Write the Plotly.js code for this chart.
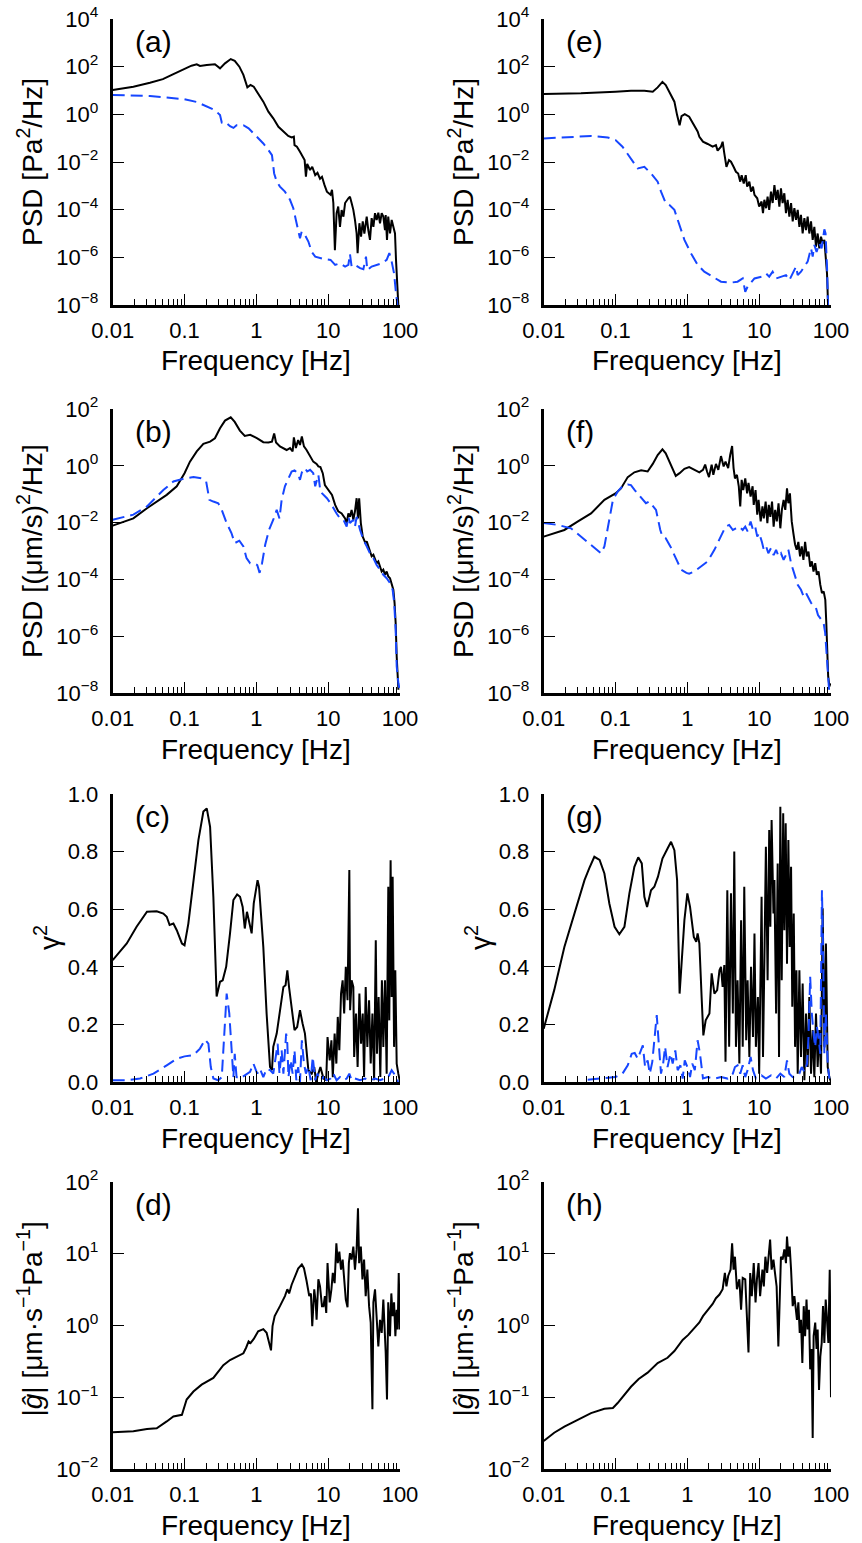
<!DOCTYPE html>
<html><head><meta charset="utf-8">
<script src="https://cdn.plot.ly/plotly-3.0.1.min.js"></script>
<style>html,body{margin:0;padding:0;background:#fff}#chart{width:862px;height:1543px}</style>
</head><body><div id="chart"></div>
<script>
// ---------- DATA: [frequency Hz, value] ----------
const aBlack = [[0.01,10.5],[0.0194,14.4],[0.033,21],[0.05,30],[0.07,49],[0.1,79],[0.125,110],[0.148,126],[0.164,107],[0.204,117],[0.265,126],[0.312,85],[0.366,138],[0.44,209],[0.5,174],[0.58,100],[0.66,45],[0.75,13.5],[0.83,17],[0.92,14.5],[1.06,7.6],[1.25,3.4],[1.47,1.3],[1.72,0.68],[2.03,0.30],[2.38,0.20],[2.78,0.123],[3.1,0.107],[3.33,0.115],[3.4,0.051],[3.67,0.044],[4.05,0.027],[4.4,0.0166],[4.7,0.012],[4.9,0.0024],[5.1,0.0083],[5.6,0.0046],[6.0,0.0063],[6.6,0.0028],[7.1,0.0035],[7.7,0.002],[8.2,0.0024],[8.9,0.00107],[9.6,5.7e-4],[10.8,4.2e-4],[11.3,6.8e-4],[11.8,1.9e-4],[12.4,2.0e-6],[13.1,7.1e-5],[13.8,1.35e-4],[14.6,1.9e-5],[15.4,9.7e-5],[16.3,5.1e-5],[17.2,1.9e-4],[19.1,3.0e-4],[20.1,3.5e-4],[21.2,1.9e-4],[22.4,9.8e-5],[23.6,3.7e-5],[24.9,1.0e-5],[25.7,1.5e-6],[27.2,2.7e-5],[28.7,7.4e-6],[30.3,3.2e-5],[31.9,1.0e-5],[34.4,5.1e-5],[36.2,1.4e-5],[38.2,5.4e-6],[40.3,4.4e-5],[42.6,1.9e-5],[44.9,7.1e-5],[47.3,3.7e-5],[49.9,7.5e-5],[52.7,2.7e-5],[55.6,7.1e-5],[58.6,5.1e-5],[61.8,1.4e-5],[63.2,6.0e-5],[65.9,5.4e-6],[68.6,5.1e-5],[72.6,1.0e-5],[76.6,3.7e-5],[80.8,1.9e-5],[85.2,1.0e-5],[88,7.8e-7],[92,8.1e-8],[94.8,1e-8]];
const aBlue = [[0.01,6.5],[0.0194,6.3],[0.033,5.9],[0.0565,5.1],[0.1,4.3],[0.148,3.3],[0.204,2.2],[0.265,1.5],[0.312,0.93],[0.33,0.45],[0.366,0.49],[0.43,0.32],[0.48,0.27],[0.53,0.35],[0.66,0.35],[0.78,0.26],[0.91,0.16],[1.06,0.098],[1.25,0.06],[1.47,0.032],[1.65,0.0195],[1.77,0.0033],[1.92,0.0015],[2.13,9.3e-4],[2.5,5.7e-4],[2.94,2.6e-4],[3.27,1.15e-4],[3.55,3.7e-5],[3.86,1.4e-5],[4.05,6.3e-6],[4.28,1.2e-5],[4.75,8.7e-6],[5.3,4.6e-6],[5.9,1.7e-6],[6.6,1.07e-6],[7.7,9.1e-7],[9.0,8.3e-7],[10.8,7.8e-7],[12.5,4.8e-7],[14.6,5.6e-7],[17.2,4.1e-7],[19.1,4.8e-7],[20.1,1.4e-6],[21.2,4.1e-7],[23.6,4.8e-7],[27.8,3.5e-7],[30.9,3.2e-7],[33.6,1.07e-6],[35.1,2.9e-7],[40.3,4.1e-7],[47.3,4.8e-7],[55.6,5.6e-7],[65.2,7.8e-7],[71,1.5e-6],[76.6,6.6e-7],[82.7,2.1e-7],[88,3.1e-8],[92,1e-8]];

const eBlack = [[0.01,7.1],[0.033,7.6],[0.1,8.9],[0.164,9.8],[0.252,9.8],[0.33,8.9],[0.386,13.5],[0.45,23],[0.5,17],[0.58,7.6],[0.66,3.4],[0.72,0.93],[0.78,0.35],[0.83,0.85],[0.92,1.02],[1.06,0.8],[1.25,0.35],[1.39,0.19],[1.47,0.115],[1.65,0.071],[1.92,0.057],[2.25,0.044],[2.5,0.051],[2.64,0.030],[2.94,0.044],[3.1,0.071],[3.27,0.023],[3.5,0.0063],[3.8,0.012],[4.05,0.0103],[4.4,0.0063],[4.75,0.0039],[5.1,0.0033],[5.45,0.0015],[5.7,0.0028],[6.1,0.00126],[6.5,0.0028],[6.8,9.3e-4],[7.3,1.5e-3],[7.7,5.7e-4],[8.2,9.3e-4],[8.6,4.2e-4],[9.4,3.0e-4],[10,1.35e-4],[10.8,2.2e-4],[11.3,7.1e-5],[11.8,2.6e-4],[12.5,1.15e-4],[13.1,3.5e-4],[13.8,9.8e-5],[14.6,5.7e-4],[15.4,1.9e-4],[16.3,1.07e-3],[17.2,2.6e-4],[18.1,6.8e-4],[19.1,1.35e-4],[20.1,7.9e-4],[21.2,1.9e-4],[22.4,4.9e-4],[23.6,7.1e-5],[24.9,2.6e-4],[26.3,5.1e-5],[27.8,1.9e-4],[29.3,3.2e-5],[30.9,1.15e-4],[32.6,3.7e-5],[34.4,9.8e-5],[36.3,1.9e-5],[38.2,6.0e-5],[40.3,1.0e-5],[42.6,4.4e-5],[44.9,1.4e-5],[47.3,5.1e-5],[49.9,1.0e-5],[52.7,3.2e-5],[55.6,5.4e-6],[58.6,1.9e-5],[61.8,2.8e-6],[65.2,1.0e-5],[68.7,2.4e-6],[72.6,7.4e-6],[76.6,3.9e-6],[80.8,5.4e-6],[84,1.5e-6],[88,2.1e-7],[91,1e-8]];
const eBlue = [[0.01,0.098],[0.0194,0.107],[0.0456,0.123],[0.078,0.107],[0.1,0.083],[0.125,0.044],[0.164,0.014],[0.204,0.0054],[0.252,0.0063],[0.312,0.0033],[0.386,0.0015],[0.43,5.7e-4],[0.5,1.9e-4],[0.56,1.6e-4],[0.66,9.8e-5],[0.78,2.3e-5],[0.91,5.4e-6],[1.12,1.5e-6],[1.39,4.8e-7],[1.72,2.5e-7],[2.25,1.55e-7],[2.94,9.5e-8],[4.05,8.7e-8],[5.0,9.5e-8],[5.9,1.3e-7],[6.4,3.6e-8],[6.9,5.9e-8],[7.6,8.1e-8],[8.6,1.3e-7],[10.8,1.55e-7],[12.5,2.1e-7],[13.8,1.55e-7],[15.4,2.5e-7],[17.2,1.3e-7],[20.1,1.55e-7],[23.6,1.8e-7],[26.3,1.1e-7],[29.3,2.1e-7],[32.6,4.1e-7],[34.4,1.8e-7],[38.2,2.5e-7],[42.6,4.1e-7],[47.3,6.6e-7],[52.7,2.4e-6],[55.6,1.07e-6],[58.6,3.3e-6],[63,1.7e-6],[68.7,3.9e-6],[74,2.4e-6],[80.8,1.5e-5],[84,1.0e-5],[88,4.1e-7],[91,1e-8]];

const bBlack = [[0.01,0.0078],[0.0126,0.0096],[0.0194,0.0141],[0.030,0.032],[0.041,0.055],[0.0565,0.095],[0.078,0.19],[0.1,0.55],[0.119,1.4],[0.148,3.2],[0.183,5.9],[0.227,7.1],[0.265,9.3],[0.312,21],[0.366,39],[0.44,51],[0.5,35],[0.59,17.4],[0.69,11.2],[0.82,12.3],[1.03,9.3],[1.25,6.8],[1.47,6.6],[1.65,7.1],[1.77,13.8],[1.88,6.6],[2.13,4.8],[2.64,3.6],[2.94,4.2],[3.2,3.2],[3.33,10],[3.55,4.2],[3.82,8.1],[4.05,5.4],[4.3,10.7],[4.6,4.8],[5.0,3.6],[5.6,2.1],[6.2,1.4],[6.9,1.17],[7.3,0.95],[7.8,0.9],[8.4,0.55],[9.0,0.21],[10,0.14],[11.3,0.095],[12.5,0.042],[13.8,0.025],[15.4,0.021],[17.2,0.014],[18.1,0.0096],[19.1,0.021],[20.1,0.016],[21.2,0.028],[22.4,0.0126],[23.6,0.025],[24.9,0.072],[26,0.014],[27,0.072],[28.5,0.0096],[30.3,0.0032],[33,0.0019],[34.4,0.0022],[36.3,0.00145],[38.2,0.0011],[40.3,6.5e-4],[42.6,7.4e-4],[44.9,4.9e-4],[47.3,3.7e-4],[49.9,4.3e-4],[52.7,2.8e-4],[55.6,1.9e-4],[58.6,2.2e-4],[61.8,1.45e-4],[65.2,1.9e-4],[68.7,1.26e-4],[72.6,1.1e-4],[76.6,7.4e-5],[80.8,4.3e-5],[84,1.5e-5],[87,2.9e-6],[90,1.9e-7],[93,2.2e-8],[95,1.3e-8]];
const bBlue = [[0.01,0.0126],[0.0194,0.019],[0.030,0.037],[0.0507,0.14],[0.07,0.28],[0.1,0.36],[0.133,0.40],[0.173,0.36],[0.2,0.28],[0.222,0.063],[0.252,0.055],[0.295,0.048],[0.33,0.028],[0.386,0.0096],[0.45,0.0043],[0.5,0.0019],[0.58,0.0023],[0.66,0.00145],[0.73,5.6e-4],[0.82,3.7e-4],[0.97,3.5e-4],[1.03,3.2e-4],[1.11,1.7e-4],[1.2,3.7e-4],[1.33,0.0017],[1.5,0.0055],[1.72,0.0126],[1.92,0.028],[2.1,0.014],[2.25,0.063],[2.5,0.19],[2.8,0.36],[3.1,0.63],[3.4,0.69],[3.8,0.55],[4.05,0.32],[4.3,0.59],[4.75,0.83],[5.1,0.63],[5.6,0.72],[6.2,0.55],[6.6,0.19],[6.9,0.32],[7.3,0.48],[7.8,0.123],[8.6,0.095],[9.6,0.072],[10.8,0.048],[11.8,0.032],[13.1,0.021],[14.6,0.014],[16.3,0.0126],[18.1,0.0072],[19.1,0.016],[20.1,0.0096],[22.4,0.0126],[23.6,0.0072],[24.9,0.016],[27.8,0.0055],[30.9,0.0025],[34.4,0.00145],[38.2,8.3e-4],[42.6,5.6e-4],[47.3,3.2e-4],[52.7,2.2e-4],[58.6,1.45e-4],[65.2,1.1e-4],[72.6,7.4e-5],[79,4.3e-5],[83,1.5e-5],[87,1.7e-6],[90,8.7e-8],[95,2.2e-8],[98,1.5e-8]];

const fBlack = [[0.01,0.0032],[0.0194,0.0055],[0.030,0.011],[0.0456,0.021],[0.07,0.063],[0.1,0.107],[0.119,0.16],[0.148,0.40],[0.183,0.59],[0.227,0.69],[0.28,0.63],[0.33,1.17],[0.386,2.4],[0.45,3.8],[0.5,2.75],[0.59,1.1],[0.69,0.44],[0.78,0.55],[0.91,0.78],[1.06,0.9],[1.25,0.72],[1.47,0.59],[1.65,0.72],[1.77,1.1],[1.88,0.63],[2.0,0.40],[2.18,1.1],[2.3,0.48],[2.5,1.17],[2.7,0.72],[2.94,2.2],[3.2,0.95],[3.4,1.4],[3.7,0.83],[3.95,2.4],[4.2,5.0],[4.4,0.83],[4.6,0.36],[4.9,0.48],[5.2,0.19],[5.45,0.037],[5.7,0.32],[6.0,0.14],[6.4,0.36],[6.8,0.107],[7.1,0.25],[7.6,0.083],[8.1,0.19],[8.4,0.042],[8.9,0.14],[9.4,0.019],[9.8,0.063],[10.5,0.011],[11.1,0.037],[11.6,0.014],[12.3,0.055],[13,0.0096],[13.6,0.042],[14.3,0.016],[15.1,0.055],[15.9,0.0072],[16.7,0.028],[17.6,0.011],[18.6,0.048],[19.7,0.0063],[20.7,0.028],[21.9,0.063],[23.1,0.028],[24.4,0.16],[25.5,0.048],[26.8,0.107],[28.4,0.011],[29.9,0.0043],[31.6,0.0017],[33.3,0.0011],[35.1,0.0021],[37.1,6.5e-4],[39.1,0.00145],[41.3,4.9e-4],[43.6,0.0021],[46,6.5e-4],[48.6,9.6e-4],[51.3,2.8e-4],[54.1,4.3e-4],[57.1,1.9e-4],[60.3,3.7e-4],[63.6,1.45e-4],[67.1,1.9e-4],[70.9,6.5e-5],[74.8,3.3e-5],[79,3.8e-5],[83.3,1.9e-5],[86,2.9e-6],[88.7,3.4e-7],[91.3,3.9e-8],[95,1.7e-8],[98,2.2e-8]];
const fBlue = [[0.01,0.0096],[0.0157,0.0083],[0.024,0.0063],[0.037,0.0025],[0.0507,0.00126],[0.063,8.3e-4],[0.07,0.00145],[0.078,0.0072],[0.092,0.063],[0.107,0.123],[0.125,0.19],[0.148,0.22],[0.164,0.21],[0.185,0.14],[0.227,0.072],[0.265,0.048],[0.295,0.055],[0.32,0.042],[0.366,0.028],[0.42,0.0055],[0.45,0.0032],[0.5,0.0028],[0.58,0.00145],[0.69,5.6e-4],[0.82,2.2e-4],[0.97,1.7e-4],[1.06,1.6e-4],[1.25,1.9e-4],[1.55,2.8e-4],[1.92,4.3e-4],[2.38,0.0011],[2.94,0.0032],[3.4,0.0072],[3.82,0.0083],[4.3,0.0055],[4.75,0.0063],[5.3,0.0072],[5.9,0.0055],[6.4,0.0072],[6.9,0.0049],[7.6,0.011],[8.2,0.0055],[8.8,0.0072],[9.4,0.0032],[10,0.0043],[10.9,0.0021],[11.6,0.0011],[12.5,0.00145],[13.4,8.3e-4],[14.6,0.00126],[15.9,7.2e-4],[17.2,0.0011],[18.6,6.5e-4],[20.1,8.3e-4],[21.9,4.9e-4],[23.6,7.2e-4],[25.5,0.0011],[27.8,3.7e-4],[30.9,1.45e-4],[34.4,6.5e-5],[38.2,4.3e-5],[41.7,2.5e-5],[44.9,3.3e-5],[48.4,2.2e-5],[52.7,1.5e-5],[57.4,1.12e-5],[61.8,9.8e-6],[65.9,5.6e-6],[72.6,3.8e-6],[79,2.9e-6],[83,1.3e-6],[87,1.9e-7],[90,3.0e-8],[94,1.3e-8]];

const cBlack = [[0.01,0.423],[0.0157,0.481],[0.0215,0.539],[0.030,0.591],[0.041,0.593],[0.0507,0.585],[0.0565,0.574],[0.062,0.545],[0.07,0.55],[0.078,0.527],[0.092,0.481],[0.1,0.475],[0.113,0.55],[0.133,0.701],[0.156,0.84],[0.183,0.939],[0.204,0.95],[0.227,0.886],[0.252,0.643],[0.28,0.297],[0.312,0.348],[0.34,0.353],[0.38,0.40],[0.43,0.516],[0.479,0.632],[0.54,0.651],[0.593,0.643],[0.645,0.608],[0.69,0.533],[0.74,0.591],[0.817,0.539],[0.86,0.516],[0.92,0.62],[1.04,0.701],[1.09,0.678],[1.25,0.469],[1.39,0.237],[1.55,0.052],[1.65,0.041],[1.72,0.122],[1.92,0.168],[2.13,0.249],[2.38,0.33],[2.55,0.336],[2.7,0.388],[2.85,0.33],[3.1,0.261],[3.4,0.18],[3.7,0.191],[4.05,0.249],[4.4,0.203],[4.75,0.168],[5.3,0.041],[5.9,0.029],[6.4,0.052],[6.8,0.0],[7.3,0.029],[7.8,0.052],[8.6,0.012],[9.4,0.006],[9.8,0.156],[10.5,0.075],[11.1,0.145],[11.6,0.017],[12.3,0.168],[13,0.064],[13.6,0.226],[14.3,0.11],[15.1,0.307],[15.9,0.353],[16.7,0.238],[17.6,0.40],[18.6,0.284],[19.7,0.736],[20.2,0.249],[21.2,0.353],[22.4,0.33],[23,0.087],[24.4,0.238],[25.7,0.052],[27.2,0.307],[28.7,0.133],[30.3,0.238],[31.6,0.017],[33.3,0.33],[35.1,0.122],[37.1,0.284],[39.1,0.064],[41.3,0.238],[43.6,0.006],[46,0.492],[47.8,0.098],[50.4,0.295],[53.2,0.017],[56,0.353],[58.6,0.122],[61.8,0.353],[65.2,0.029],[68.7,0.678],[70.9,0.214],[74,0.77],[76.6,0.295],[79,0.713],[82.7,0.122],[86,0.388],[89.9,0.064],[94.8,0.029],[100,0.0]];
const cBlue = [[0.01,0.006],[0.0157,0.006],[0.024,0.012],[0.037,0.029],[0.0565,0.058],[0.078,0.081],[0.1,0.089],[0.133,0.093],[0.164,0.116],[0.193,0.147],[0.215,0.133],[0.232,0.052],[0.252,0.012],[0.295,0.006],[0.33,0.017],[0.355,0.168],[0.386,0.307],[0.42,0.238],[0.45,0.098],[0.479,0.017],[0.5,0.098],[0.53,0.017],[0.593,0.012],[0.69,0.023],[0.817,0.035],[0.91,0.064],[1.03,0.029],[1.12,0.046],[1.25,0.017],[1.39,0.046],[1.55,0.041],[1.72,0.029],[1.88,0.098],[1.98,0.133],[2.1,0.029],[2.25,0.11],[2.38,0.029],[2.6,0.168],[2.7,0.133],[2.8,0.017],[3.0,0.075],[3.2,0.029],[3.4,0.11],[3.6,0.006],[3.82,0.052],[4.05,0.0],[4.3,0.145],[4.6,0.064],[4.9,0.029],[5.3,0.052],[5.7,0.006],[6.1,0.087],[6.6,0.006],[7.1,0.029],[7.7,0.006],[8.6,0.017],[9.6,0.006],[10.8,0.012],[11.8,0.029],[13.1,0.006],[14.6,0.017],[16.3,0.006],[18.1,0.012],[19.7,0.029],[21.2,0.006],[23.6,0.012],[27.8,0.006],[32.6,0.012],[38.2,0.006],[44.9,0.012],[52.7,0.006],[61.8,0.012],[68.7,0.017],[76.6,0.041],[82.7,0.029],[88,0.012],[94.8,0.0]];

const gBlack = [[0.01,0.185],[0.014,0.319],[0.0194,0.469],[0.027,0.585],[0.037,0.701],[0.043,0.742],[0.0507,0.782],[0.06,0.771],[0.07,0.724],[0.082,0.62],[0.097,0.539],[0.113,0.513],[0.133,0.539],[0.156,0.655],[0.183,0.747],[0.207,0.78],[0.232,0.759],[0.252,0.643],[0.275,0.608],[0.312,0.666],[0.347,0.678],[0.39,0.713],[0.45,0.776],[0.53,0.811],[0.593,0.834],[0.66,0.805],[0.72,0.701],[0.78,0.307],[0.83,0.423],[0.91,0.562],[1.0,0.655],[1.09,0.608],[1.23,0.504],[1.33,0.487],[1.39,0.516],[1.47,0.481],[1.58,0.295],[1.67,0.162],[1.8,0.214],[2.03,0.238],[2.18,0.377],[2.38,0.307],[2.6,0.319],[2.8,0.388],[2.94,0.40],[3.1,0.33],[3.27,0.406],[3.4,0.07],[3.6,0.666],[3.82,0.122],[4.05,0.655],[4.3,0.238],[4.5,0.80],[4.75,0.122],[5.0,0.353],[5.3,0.064],[5.6,0.562],[5.9,0.122],[6.2,0.678],[6.6,0.145],[6.9,0.353],[7.3,0.087],[7.7,0.40],[8.2,0.156],[8.6,0.516],[9.0,0.122],[9.6,0.295],[10,0.029],[10.8,0.643],[11.3,0.087],[11.8,0.411],[12.4,0.817],[13.1,0.353],[13.8,0.875],[14.3,0.539],[14.9,0.91],[15.8,0.585],[16.3,0.701],[17.2,0.238],[18.1,0.759],[18.9,0.087],[19.7,0.956],[20.6,0.353],[21.6,0.933],[22.4,0.527],[23.4,0.898],[24.4,0.411],[25.5,0.84],[26.6,0.469],[27.8,0.747],[28.9,0.261],[30.3,0.585],[31.6,0.122],[33,0.388],[34.4,0.029],[36.3,0.388],[38.2,0.087],[40.3,0.342],[42.6,0.006],[44.9,0.238],[47.3,0.052],[49.9,0.295],[52.7,0.029],[55.6,0.18],[58.6,0.017],[61.8,0.238],[65.2,0.052],[68.7,0.18],[72.6,0.029],[76.6,0.603],[80.8,0.122],[85,0.481],[90,0.052],[94.8,0.017],[100,0.0]];
const gBlue = [[0.041,0.008],[0.07,0.014],[0.1,0.017],[0.125,0.029],[0.148,0.058],[0.168,0.098],[0.185,0.101],[0.204,0.081],[0.222,0.104],[0.24,0.127],[0.258,0.052],[0.28,0.075],[0.3,0.029],[0.325,0.07],[0.347,0.145],[0.375,0.232],[0.4,0.133],[0.43,0.029],[0.46,0.064],[0.49,0.122],[0.53,0.052],[0.58,0.098],[0.625,0.064],[0.68,0.11],[0.733,0.041],[0.8,0.058],[0.86,0.012],[0.92,0.075],[1.04,0.041],[1.09,0.017],[1.17,0.064],[1.27,0.041],[1.39,0.145],[1.5,0.098],[1.65,0.012],[1.92,0.017],[2.38,0.012],[2.94,0.017],[3.64,0.012],[4.3,0.029],[4.6,0.052],[5.0,0.058],[5.45,0.029],[5.9,0.058],[6.4,0.017],[6.9,0.041],[7.6,0.087],[8.2,0.041],[9.0,0.012],[10.8,0.023],[12.4,0.012],[14.6,0.023],[17.2,0.012],[19.7,0.029],[22.4,0.017],[24.4,0.075],[26.3,0.029],[29.3,0.017],[32.6,0.023],[36.3,0.029],[39.1,0.052],[42.6,0.035],[46.4,0.064],[48.6,0.156],[51.3,0.365],[54.1,0.238],[57.1,0.168],[60.3,0.122],[63.6,0.191],[67.1,0.156],[70.9,0.098],[74.8,0.666],[77.8,0.446],[80.8,0.098],[85,0.238],[90,0.064],[94.8,0.012]];

const dBlack = [[0.01,0.0324],[0.0194,0.0335],[0.03,0.036],[0.041,0.037],[0.0565,0.046],[0.07,0.054],[0.092,0.057],[0.107,0.093],[0.133,0.12],[0.173,0.15],[0.252,0.186],[0.295,0.23],[0.347,0.28],[0.43,0.33],[0.53,0.37],[0.66,0.41],[0.72,0.49],[0.78,0.60],[0.83,0.57],[0.92,0.65],[1.06,0.83],[1.25,0.89],[1.39,0.79],[1.52,0.57],[1.6,0.45],[1.68,0.98],[1.8,1.35],[2.13,1.86],[2.5,2.57],[2.7,3.2],[2.86,2.8],[3.1,3.7],[3.4,4.6],[3.82,6.2],[4.3,7.1],[4.6,6.3],[5.0,4.2],[5.45,2.57],[5.75,2.8],[6.0,0.98],[6.4,3.2],[6.7,2.1],[6.9,1.2],[7.3,4.4],[7.7,3.5],[8.2,1.86],[8.6,1.86],[9.0,2.57],[9.4,1.5],[9.8,7.4],[10.5,2.1],[11.1,3.2],[11.6,5.4],[12.3,3.9],[13,14],[13.6,7.4],[14.3,10.7],[15.1,6.0],[15.9,8.3],[16.7,4.6],[17.6,2.3],[18.6,1.8],[19.4,7.4],[20.1,10.2],[21.2,8.3],[22.4,12.6],[23.6,6.0],[24.9,11.5],[26,43],[27,7.4],[28.5,12.6],[30,4.4],[31.6,8.3],[33.3,2.57],[35.1,6.0],[37.1,1.86],[39.1,1.1],[41.3,0.068],[42.6,2.1],[44.9,3.2],[47.3,1.35],[49.9,0.51],[52.7,1.2],[55.6,0.79],[58.6,2.3],[61.8,0.79],[63.2,0.42],[65.9,0.093],[68.6,2.1],[72.6,0.71],[75.7,2.8],[79,1.35],[82.7,2.1],[86.2,0.71],[89.9,1.66],[92.8,0.88],[96,5.4],[100,0.88]];
const hBlack = [[0.01,0.0245],[0.014,0.032],[0.0194,0.039],[0.033,0.051],[0.0456,0.060],[0.07,0.069],[0.092,0.071],[0.107,0.083],[0.133,0.11],[0.164,0.14],[0.21,0.18],[0.28,0.22],[0.386,0.30],[0.53,0.355],[0.66,0.44],[0.78,0.55],[0.86,0.63],[1.03,0.74],[1.25,0.93],[1.47,1.1],[1.65,1.35],[1.8,1.5],[2.0,1.74],[2.25,2.0],[2.5,2.4],[2.8,2.7],[3.1,3.2],[3.33,5.4],[3.5,3.5],[3.7,4.9],[4.0,6.0],[4.2,14],[4.4,6.0],[4.6,9.1],[4.9,3.2],[5.3,4.4],[5.6,1.66],[5.9,4.6],[6.4,4.4],[6.7,1.35],[7.1,0.42],[7.5,5.4],[7.9,2.57],[8.4,7.4],[8.9,2.1],[9.3,4.4],[9.8,7.4],[10.3,2.57],[11.1,6.0],[11.6,3.5],[12.2,9.1],[12.9,5.4],[13.5,8.3],[14.2,15.8],[14.9,6.0],[15.8,8.3],[16.6,5.4],[17.5,3.5],[18.5,0.51],[19.3,1.66],[20.1,9.1],[21.2,8.3],[22.4,11.5],[23.6,7.4],[24.4,17.4],[25.5,9.1],[26.6,12.6],[27.8,6.0],[29.3,1.86],[30.9,2.57],[32.6,1.5],[33.6,1.2],[35.1,2.1],[36.7,0.79],[38.2,1.2],[39.9,0.30],[41.7,1.86],[43.6,0.71],[45.6,2.3],[47.3,0.88],[49.3,1.66],[51.3,0.245],[53.6,0.47],[55.6,0.027],[57.3,0.71],[60.3,1.1],[63.0,0.47],[65.2,0.88],[68.1,0.126],[71,0.37],[74.2,0.57],[77.4,1.86],[80.8,0.57],[84.4,2.3],[88,1.2],[91.9,0.57],[96,6.0],[100,0.10]];

// ---------- AXIS LABELS ----------
const FREQ_TICKS = [0.01, 0.1, 1, 10, 100];
const FREQ_TICK_TEXT = ['0.01', '0.1', '1', '10', '100'];
const FREQ_MINOR = [0.02,0.03,0.04,0.05,0.06,0.07,0.08,0.09,0.2,0.3,0.4,0.5,0.6,0.7,0.8,0.9,2,3,4,5,6,7,8,9,20,30,40,50,60,70,80,90];
const PSD_P_TICKS = [1e-8,1e-6,1e-4,1e-2,1,1e2,1e4];
const PSD_P_TEXT = ['10<sup>−8</sup>','10<sup>−6</sup>','10<sup>−4</sup>','10<sup>−2</sup>','10<sup>0</sup>','10<sup>2</sup>','10<sup>4</sup>'];
const PSD_V_TICKS = [1e-8,1e-6,1e-4,1e-2,1,1e2];
const PSD_V_TEXT = ['10<sup>−8</sup>','10<sup>−6</sup>','10<sup>−4</sup>','10<sup>−2</sup>','10<sup>0</sup>','10<sup>2</sup>'];
const COH_TICKS = [0,0.2,0.4,0.6,0.8,1.0];
const COH_TEXT = ['0.0','0.2','0.4','0.6','0.8','1.0'];
const TF_TICKS = [0.01,0.1,1,10,100];
const TF_TEXT = ['10<sup>−2</sup>','10<sup>−1</sup>','10<sup>0</sup>','10<sup>1</sup>','10<sup>2</sup>'];
const X_TITLE = 'Frequency [Hz]';
const Y_TITLES = ['PSD [Pa<sup>2</sup>/Hz]', 'PSD [(μm/s)<sup>2</sup>/Hz]', 'γ<sup>2</sup>', '|<i>ĝ</i>| [μm·s<sup>−1</sup>Pa<sup>−1</sup>]'];
const PANEL_LABELS = [['(a)','(b)','(c)','(d)'],['(e)','(f)','(g)','(h)']];

// ---------- LAYOUT ----------
const W = 862, H = 1543;
const FONT = 'Liberation Sans, Arial, Helvetica, sans-serif';
const BLUE = '#1646ff';
const px = v => v / W;
const py = v => 1 - v / H;
const colX = [[112.7, 400], [543.7, 831]];           // pixel left/right of plot areas
const rowY = [[19, 305], [409, 693], [794, 1082], [1182, 1469]]; // pixel top/bottom

const yCfgs = [
  {type:'log', range:[-8,4], tickvals:PSD_P_TICKS, ticktext:PSD_P_TEXT},
  {type:'log', range:[-8,2], tickvals:PSD_V_TICKS, ticktext:PSD_V_TEXT},
  {type:'linear', range:[0,1], tickvals:COH_TICKS, ticktext:COH_TEXT},
  {type:'log', range:[-2,2], tickvals:TF_TICKS, ticktext:TF_TEXT}
];

const panels = [
  [[aBlack, aBlue], [bBlack, bBlue], [cBlack, cBlue], [dBlack]],
  [[eBlack, eBlue], [fBlack, fBlue], [gBlack, gBlue], [hBlack]]
];

const layout = {
  width: W, height: H,
  margin: {l:0, r:0, t:0, b:0},
  paper_bgcolor: '#fff', plot_bgcolor: 'rgba(0,0,0,0)',
  showlegend: false, hovermode: false,
  font: {family: FONT, color: '#000', size: 22},
  annotations: []
};
const traces = [];

let k = 0;
for (let c = 0; c < 2; c++) {
  for (let r = 0; r < 4; r++) {
    k++;
    const xn = k === 1 ? 'xaxis' : 'xaxis' + k;
    const yn = k === 1 ? 'yaxis' : 'yaxis' + k;
    const xid = k === 1 ? 'x' : 'x' + k;
    const yid = k === 1 ? 'y' : 'y' + k;
    layout[xn] = {
      domain: [px(colX[c][0]), px(colX[c][1])], anchor: yid,
      type: 'log', range: [-2, 2],
      showline: true, linewidth: 3, linecolor: '#000',
      ticks: 'inside', ticklen: 11, tickwidth: 1, tickcolor: '#000',
      tickmode: 'array', tickvals: FREQ_TICKS, ticktext: FREQ_TICK_TEXT,
      tickfont: {family: FONT, size: 22, color: '#000'},
      ticklabelstandoff: 4,
      showgrid: false, zeroline: false, fixedrange: true,
      minor: {ticks: 'inside', ticklen: 6, tickwidth: 1, tickcolor: '#000',
              tickmode: 'array', tickvals: FREQ_MINOR, showgrid: false}
    };
    const yc = yCfgs[r];
    layout[yn] = {
      domain: [py(rowY[r][1]), py(rowY[r][0])], anchor: xid,
      type: yc.type, range: yc.range,
      showline: true, linewidth: 3, linecolor: '#000',
      ticks: 'inside', ticklen: 11, tickwidth: 1, tickcolor: '#000',
      tickmode: 'array', tickvals: yc.tickvals, ticktext: yc.ticktext,
      tickfont: {family: FONT, size: 22, color: '#000'},
      ticklabelstandoff: 7,
      showgrid: false, zeroline: false, fixedrange: true
    };
    const series = panels[c][r];
    series.forEach((s, i) => {
      traces.push({
        type: 'scatter', mode: 'lines', xaxis: xid, yaxis: yid,
        x: s.map(p => p[0]), y: s.map(p => p[1]),
        line: i === 0 ? {color: '#000', width: 2} : {color: BLUE, width: 2, dash: '12px,6px'}
      });
    });
    // panel label
    layout.annotations.push({
      text: PANEL_LABELS[c][r], xref: 'paper', yref: 'paper',
      x: px(colX[c][0] + 20), y: py(rowY[r][0] + 22), xanchor: 'left', yanchor: 'middle',
      showarrow: false, font: {family: FONT, size: 30, color: '#000'}
    });
    // x title
    layout.annotations.push({
      text: X_TITLE, xref: 'paper', yref: 'paper',
      x: px((colX[c][0] + colX[c][1]) / 2), y: py(rowY[r][1] + 56), xanchor: 'center', yanchor: 'middle',
      showarrow: false, font: {family: FONT, size: 28, color: '#000'}
    });
    // y title
    const yTitleX = (r === 2 ? 47 : 30) + c * 431;
    const yTitleY = (rowY[r][0] + rowY[r][1]) / 2 - (r === 3 ? 6 : 0);
    layout.annotations.push({
      text: Y_TITLES[r], xref: 'paper', yref: 'paper', textangle: -90,
      x: px(yTitleX), y: py(yTitleY), xanchor: 'center', yanchor: 'middle',
      showarrow: false, font: {family: FONT, size: 28, color: '#000'}
    });
  }
}

Plotly.newPlot('chart', traces, layout, {staticPlot: true, displayModeBar: false});
</script></body></html>
